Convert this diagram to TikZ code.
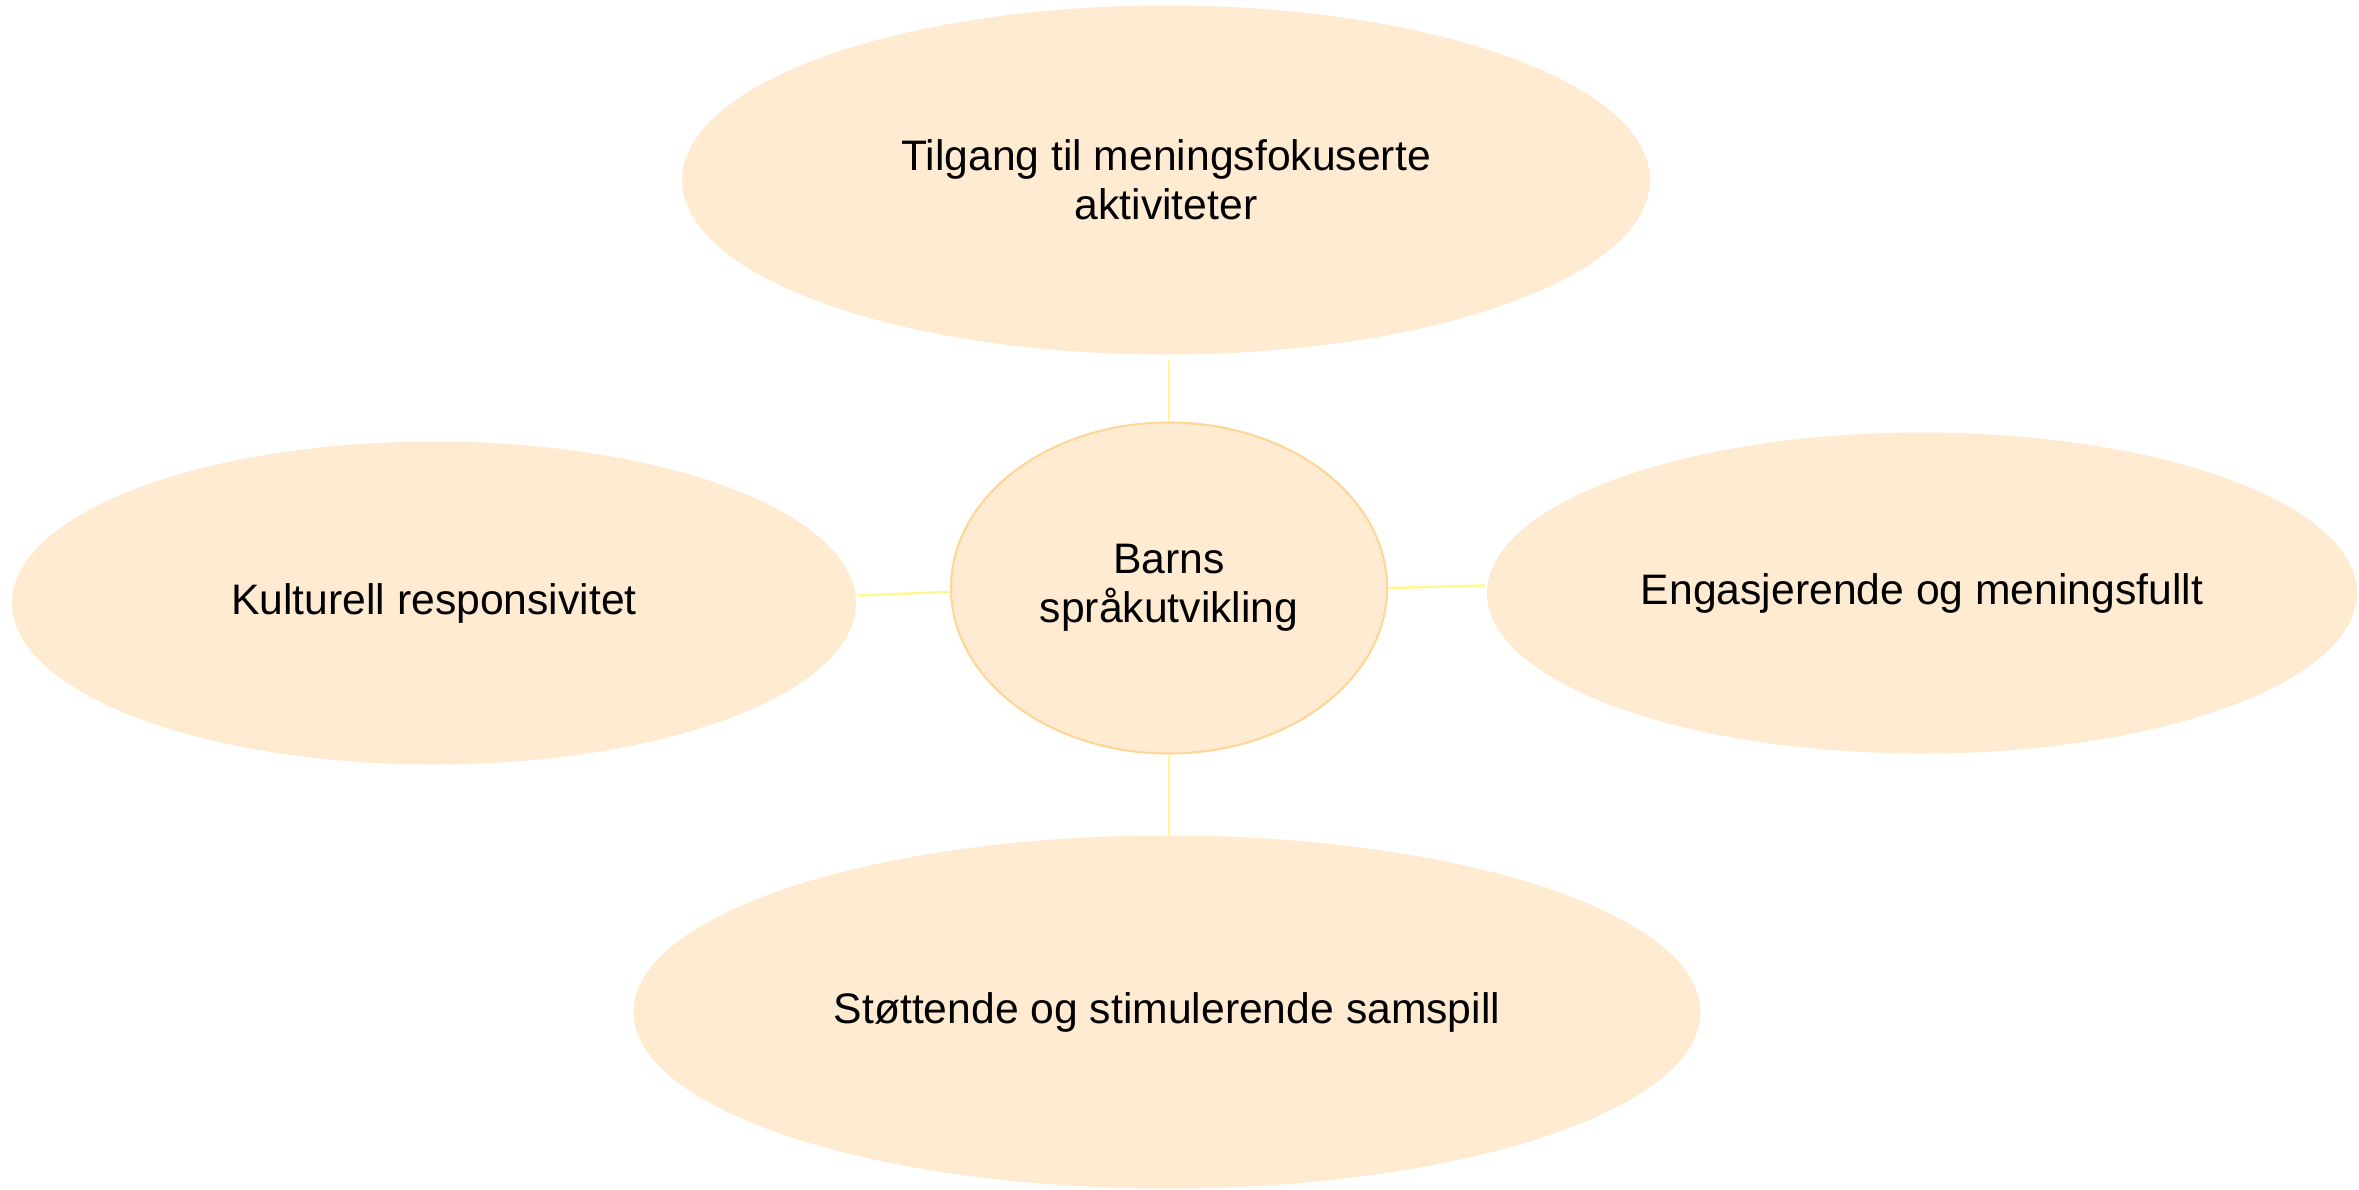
\documentclass[tikz,border=0pt]{standalone}
\usepackage{fontspec}
\setmainfont{Liberation Sans}
\usetikzlibrary{shapes.geometric}
\definecolor{bubblefill}{HTML}{FFEBD1}
\definecolor{hubborder}{HTML}{FFD699}
\definecolor{linkcol}{HTML}{FFF78F}
\tikzset{
  bubble/.style={ellipse, fill=bubblefill, draw=none, inner sep=0pt, align=center,
    font=\fontsize{32}{37}\selectfont},
  hub/.style={bubble, draw=hubborder, line width=1.6pt},
  link/.style={draw=linkcol, line width=1.8pt}
}
\begin{document}
\begin{tikzpicture}[x=0.75pt,y=-0.75pt]
\useasboundingbox (0,0) rectangle (2359,1189);
\node[bubble, minimum width=726pt, minimum height=261.75pt] (top) at (1166,180)
  {Tilgang til meningsfokuserte\\aktiviteter};
\node[hub, minimum width=327pt, minimum height=248.25pt] (ctr) at (1169,588)
  {Barns\\språkutvikling};
\node[bubble, minimum width=633pt, minimum height=242.25pt] (left) at (434,603)
  {Kulturell responsivitet};
\node[bubble, minimum width=652.5pt, minimum height=240.75pt] (right) at (1922,593)
  {Engasjerende og meningsfullt};
\node[bubble, minimum width=800.25pt, minimum height=264.75pt] (bot) at (1167,1012)
  {Støttende og stimulerende samspill};
\draw[link, shorten <=3.75pt] (top.south -| ctr.north) -- (ctr.north);
\draw[link, shorten <=1.5pt] (left.1.1) -- (ctr.181.3);
\draw[link, shorten >=2pt] (ctr.-0.5) -- (right.179.6);
\draw[link] (ctr.south) -- (ctr.south |- bot.north);
\end{tikzpicture}
\end{document}
